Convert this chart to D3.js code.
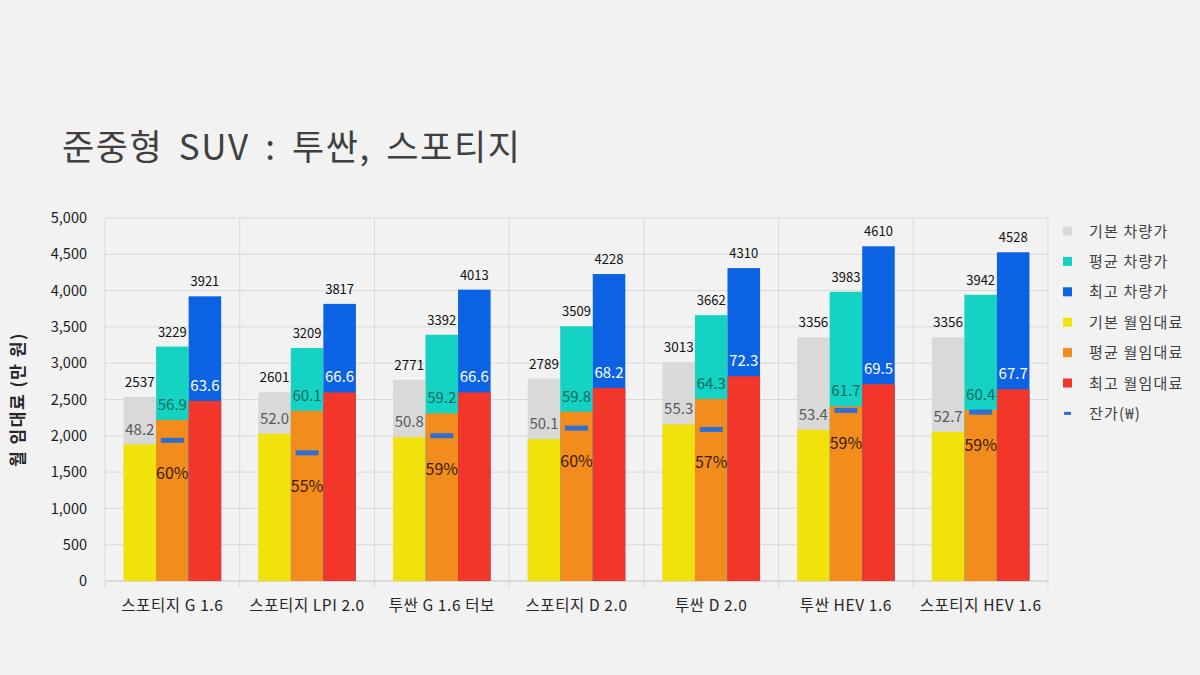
<!DOCTYPE html>
<html>
<head>
<meta charset="utf-8">
<script src="https://cdn.jsdelivr.net/npm/d3@7"></script>
<style>
  body { margin: 0; background: #f2f2f2; }
  svg { display: block; font-family: "Noto Sans CJK KR", "Noto Sans", sans-serif; }
</style>
</head>
<body>
<svg id="chart" width="1200" height="675"></svg>
<script>
const categories = ['스포티지 G 1.6', '스포티지 LPI 2.0', '투싼 G 1.6 터보', '스포티지 D 2.0', '투싼 D 2.0', '투싼 HEV 1.6', '스포티지 HEV 1.6'];
// 차량가 (만 원)
const basePrice = [2537, 2601, 2771, 2789, 3013, 3356, 3356];
const avgPrice = [3229, 3209, 3392, 3509, 3662, 3983, 3942];
const maxPrice = [3921, 3817, 4013, 4228, 4310, 4610, 4528];
// 월임대료 (만 원)
const baseRent = [48.2, 52.0, 50.8, 50.1, 55.3, 53.4, 52.7];
const avgRent = [56.9, 60.1, 59.2, 59.8, 64.3, 61.7, 60.4];
const maxRent = [63.6, 66.6, 66.6, 68.2, 72.3, 69.5, 67.7];
// 잔가율 (%)
const residualPct = [60, 55, 59, 60, 57, 59, 59];
const yTicks = [0, 500, 1000, 1500, 2000, 2500, 3000, 3500, 4000, 4500, 5000];

const legendItems = [
  {name: '기본 차량가', color: '#d9d9d9'},
  {name: '평균 차량가', color: '#14d3c3'},
  {name: '최고 차량가', color: '#0b62e3'},
  {name: '기본 월임대료', color: '#f2e20c'},
  {name: '평균 월임대료', color: '#f28c1c'},
  {name: '최고 월임대료', color: '#f2362a'},
  {name: '잔가(₩)', color: '#2f6fd3', dash: true}
];

const margin = {top: 218, left: 105};
const w = 943, h = 363;
const svg = d3.select('#chart');

svg.append('text')
  .attr('x', 62).attr('y', 160)
  .attr('font-size', 35).attr('fill', '#404040')
  .attr('letter-spacing', 1.6).attr('word-spacing', 6)
  .text('준중형 SUV : 투싼, 스포티지');

svg.append('text')
  .attr('transform', 'translate(24,' + (margin.top + h / 2) + ') rotate(-90)')
  .attr('text-anchor', 'middle')
  .attr('font-size', 17).attr('font-weight', 'bold').attr('fill', '#262626')
  .attr('letter-spacing', 1.5)
  .text('월 임대료 (만 원)');

const g = svg.append('g').attr('transform', `translate(${margin.left},${margin.top})`);

const x = d3.scaleBand().domain(categories).range([0, w]);
const sub = d3.scaleBand().domain([0, 1, 2]).range([0, x.bandwidth()]).paddingOuter(0.57);
const y = d3.scaleLinear().domain([0, 5000]).range([h, 0]);
// secondary (hidden) axis for monthly rent
const y2 = d3.scaleLinear().domain([0, 5000 / 39]).range([h, 0]);

// grid
g.selectAll('.hgrid').data(yTicks).enter().append('line')
  .attr('x1', 0).attr('x2', w)
  .attr('y1', d => y(d)).attr('y2', d => y(d))
  .attr('stroke', d => d === 0 ? '#bfbfbf' : '#d9d9d9').attr('stroke-width', 1);
g.selectAll('.vgrid').data(d3.range(categories.length + 1)).enter().append('line')
  .attr('x1', i => i * x.step()).attr('x2', i => i * x.step())
  .attr('y1', 0).attr('y2', h + 7)
  .attr('stroke', '#d9d9d9').attr('stroke-width', 1);

// y axis
const yAxis = g.append('g')
  .call(d3.axisLeft(y).tickValues(yTicks).tickFormat(d3.format(',')).tickSize(0).tickPadding(18));
yAxis.select('.domain').remove();
yAxis.selectAll('text').attr('font-size', 14.5).attr('fill', '#1a1a1a')
  .attr('font-family', '"Noto Sans CJK KR", "Noto Sans", sans-serif');

// x axis labels
const xAxis = g.append('g').attr('transform', `translate(0,${h})`)
  .call(d3.axisBottom(x).tickSize(0).tickPadding(19));
xAxis.select('.domain').remove();
xAxis.selectAll('text').attr('font-size', 15.5).attr('fill', '#262626')
  .attr('letter-spacing', 0.6)
  .attr('font-family', '"Noto Sans CJK KR", "Noto Sans", sans-serif');

const groups = [
  {price: basePrice, rent: baseRent, pc: legendItems[0].color, rc: legendItems[3].color, pl: 13.5, rl: '#595959'},
  {price: avgPrice, rent: avgRent, pc: legendItems[1].color, rc: legendItems[4].color, pl: 13, rl: '#0a6b62'},
  {price: maxPrice, rent: maxRent, pc: legendItems[2].color, rc: legendItems[5].color, pl: 13, rl: '#ffffff'}
];

groups.forEach(function(s, k) {
  const bx = i => x(categories[i]) + sub(k);
  const idx = d3.range(categories.length);
  // vehicle price bars (behind)
  g.selectAll('.pbar' + k).data(idx).enter().append('rect')
    .attr('x', bx).attr('width', sub.bandwidth())
    .attr('y', i => y(s.price[i])).attr('height', i => h - y(s.price[i]))
    .attr('fill', s.pc);
  // monthly rent bars (front)
  g.selectAll('.rbar' + k).data(idx).enter().append('rect')
    .attr('x', bx).attr('width', sub.bandwidth())
    .attr('y', i => y2(s.rent[i])).attr('height', i => h - y2(s.rent[i]))
    .attr('fill', s.rc);
  // price labels
  g.selectAll('.plab' + k).data(idx).enter().append('text')
    .attr('x', i => bx(i) + sub.bandwidth() / 2)
    .attr('y', i => y(s.price[i]) - 10)
    .attr('text-anchor', 'middle').attr('font-size', s.pl).attr('fill', '#111')
    .text(i => s.price[i]);
  // rent labels
  g.selectAll('.rlab' + k).data(idx).enter().append('text')
    .attr('x', i => bx(i) + sub.bandwidth() / 2)
    .attr('y', i => y2(s.rent[i]) - 10)
    .attr('text-anchor', 'middle').attr('font-size', 15).attr('fill', s.rl)
    .text(i => s.rent[i].toFixed(1));
});

// residual value dash + pct label
const idx = d3.range(categories.length);
const midX = i => x(categories[i]) + sub(1) + sub.bandwidth() / 2;
const resid = i => avgPrice[i] * residualPct[i] / 100;
g.selectAll('.dash').data(idx).enter().append('rect')
  .attr('x', i => midX(i) - 11.5).attr('width', 23)
  .attr('y', i => y(resid(i)) - 2.5).attr('height', 5)
  .attr('fill', legendItems[6].color);
g.selectAll('.pct').data(idx).enter().append('text')
  .attr('x', midX)
  .attr('y', i => y(resid(i)) + 39)
  .attr('text-anchor', 'middle').attr('font-size', 16).attr('fill', '#3a1d00')
  .text(i => residualPct[i] + '%');

// legend
const lg = svg.append('g').attr('transform', 'translate(1063,231)');
const items = lg.selectAll('g').data(legendItems).enter().append('g')
  .attr('transform', (d, i) => `translate(0,${i * 30.4})`);
items.filter(d => !d.dash).append('rect')
  .attr('x', 0).attr('y', -4.5).attr('width', 9).attr('height', 9).attr('fill', d => d.color);
items.filter(d => d.dash).append('rect')
  .attr('x', 1).attr('y', -1.5).attr('width', 7).attr('height', 3).attr('fill', d => d.color);
items.append('text')
  .attr('x', 26).attr('y', 5.5)
  .attr('font-size', 15).attr('fill', '#404040')
  .attr('letter-spacing', 1.2)
  .text(d => d.name);
</script>
</body>
</html>
